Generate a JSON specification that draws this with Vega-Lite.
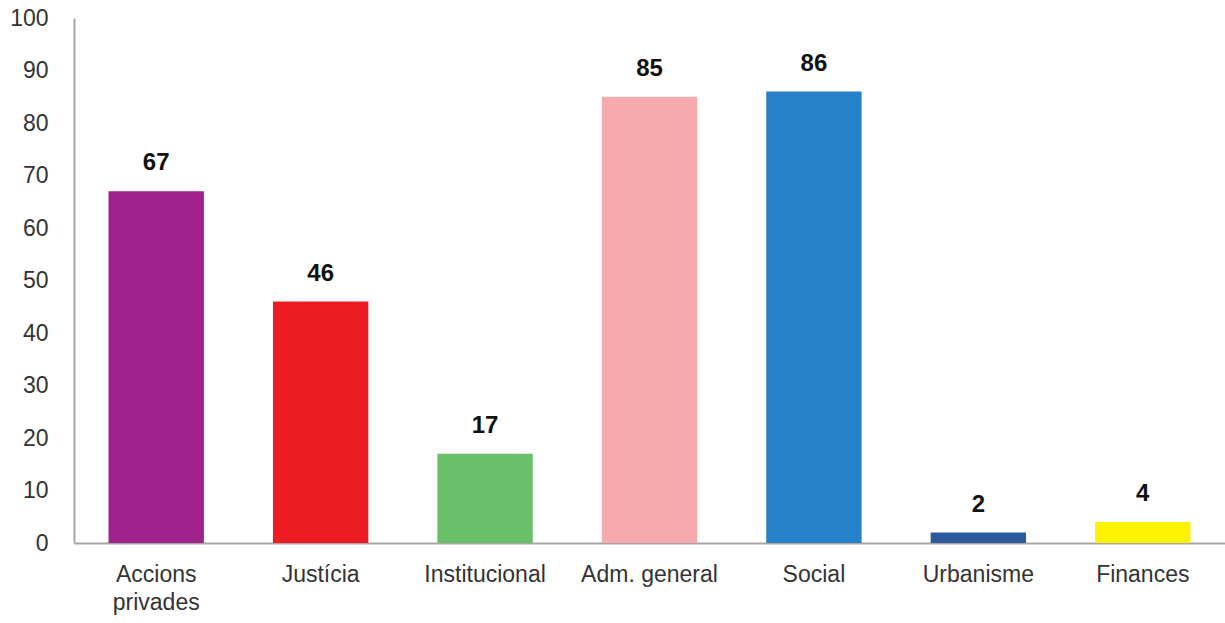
{
  "$schema": "https://vega.github.io/schema/vega-lite/v6.json",
  "width": 1151,
  "height": 525,
  "autosize": "none",
  "padding": {"left": 74, "top": 18, "right": 0, "bottom": 80},
  "background": "white",
  "config": {"view": {"stroke": null}, "font": "Liberation Sans"},
  "data": {"values": [
    {"cat": "Accions privades", "value": 67, "color": "#a0228c"},
    {"cat": "Justícia", "value": 46, "color": "#ed1c24"},
    {"cat": "Institucional", "value": 17, "color": "#6abf69"},
    {"cat": "Adm. general", "value": 85, "color": "#f6aaae"},
    {"cat": "Social", "value": 86, "color": "#2681c8"},
    {"cat": "Urbanisme", "value": 2, "color": "#2d5a9c"},
    {"cat": "Finances", "value": 4, "color": "#fff200"}
  ]},
  "encoding": {
    "x": {"field": "cat", "type": "nominal", "sort": null,
      "scale": {"paddingInner": 0.42, "paddingOuter": 0.21},
      "axis": {"title": null, "labelAngle": 0, "ticks": false, "domainColor": "#aaa5a5", "domainWidth": 2,
        "labelFontSize": 23, "labelColor": "#333", "labelPadding": 20, "labelLineHeight": 28,
        "labelExpr": "datum.label == 'Accions privades' ? ['Accions', 'privades'] : datum.label"}},
    "y": {"field": "value", "type": "quantitative",
      "scale": {"domain": [0, 100], "nice": false},
      "axis": {"title": null, "values": [0,10,20,30,40,50,60,70,80,90,100], "grid": false, "ticks": false,
        "domainColor": "#aaa5a5", "domainWidth": 2, "labelFontSize": 23, "labelColor": "#333", "labelPadding": 26}}
  },
  "layer": [
    {"mark": {"type": "bar"}, "encoding": {"color": {"field": "color", "type": "nominal", "scale": null}}},
    {"mark": {"type": "text", "baseline": "alphabetic", "dy": -21, "fontSize": 24, "fontWeight": "bold", "color": "#111"},
     "encoding": {"text": {"field": "value", "type": "quantitative"}}}
  ]
}
